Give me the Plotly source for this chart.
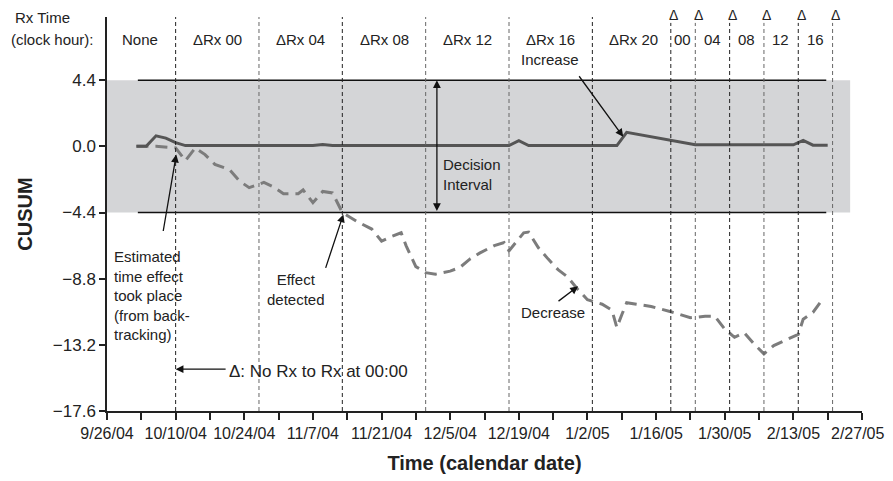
import pandas as pd
import plotly.graph_objects as go

# CUSUM traces
solid_dates = ['2004-10-02', '2004-10-04', '2004-10-06', '2004-10-08', '2004-10-10', '2004-10-12',
               '2004-11-07', '2004-11-09', '2004-11-11', '2004-12-17', '2004-12-19', '2004-12-21',
               '2005-01-08', '2005-01-10', '2005-01-24', '2005-02-13', '2005-02-15', '2005-02-17',
               '2005-02-20']
solid_vals = [0.0, 0.0, 0.7, 0.55, 0.25, 0.05,
              0.05, 0.12, 0.05, 0.05, 0.38, 0.05,
              0.05, 0.93, 0.1, 0.1, 0.4, 0.08,
              0.08]

dashed_dates = ['2004-10-02', '2004-10-06', '2004-10-10', '2004-10-12', '2004-10-14', '2004-10-16',
                '2004-10-18', '2004-10-21', '2004-10-23', '2004-10-25', '2004-10-28', '2004-10-30',
                '2004-11-01', '2004-11-04', '2004-11-05', '2004-11-07', '2004-11-09', '2004-11-11',
                '2004-11-13', '2004-11-16', '2004-11-19', '2004-11-21', '2004-11-23', '2004-11-25',
                '2004-11-26', '2004-11-28', '2004-11-30', '2004-12-02', '2004-12-05', '2004-12-07',
                '2004-12-09', '2004-12-11', '2004-12-14', '2004-12-16', '2004-12-17', '2004-12-19',
                '2004-12-20', '2004-12-21', '2004-12-23', '2004-12-25', '2004-12-27', '2004-12-29',
                '2004-12-31', '2005-01-02', '2005-01-05', '2005-01-07', '2005-01-08', '2005-01-09',
                '2005-01-10', '2005-01-12', '2005-01-15', '2005-01-19', '2005-01-23', '2005-01-26',
                '2005-01-28', '2005-01-30', '2005-02-01', '2005-02-03', '2005-02-05', '2005-02-07',
                '2005-02-09', '2005-02-12', '2005-02-14', '2005-02-15', '2005-02-17', '2005-02-19']
dashed_vals = [0.0, 0.0, -0.1, -0.95, -0.1, -0.55,
               -1.2, -1.55, -2.3, -2.75, -2.4, -2.7,
               -3.15, -3.15, -2.9, -3.75, -3.0, -3.1,
               -4.4, -5.0, -5.5, -6.3, -6.0, -5.75,
               -6.6, -8.0, -8.4, -8.5, -8.3, -8.05,
               -7.5, -7.1, -6.6, -6.4, -6.95, -6.1,
               -5.75, -5.7, -6.75, -7.5, -8.2, -8.7,
               -9.5, -10.2, -10.5, -10.9, -12.05, -11.2,
               -10.4, -10.5, -10.65, -11.0, -11.4, -11.3,
               -11.3, -12.15, -12.7, -12.4, -13.15, -13.8,
               -13.25, -12.8, -12.5, -11.5, -11.05, -10.15]

# decision interval
limit = 4.4

# Rx schedule changes
change_dates = ['2004-10-10', '2004-10-27', '2004-11-13', '2004-11-30', '2004-12-17', '2005-01-03',
                '2005-01-19', '2005-01-24', '2005-01-31', '2005-02-07', '2005-02-14', '2005-02-21']
change_colors = ['#222', '#666', '#222', '#666', '#666', '#222',
                 '#222', '#666', '#222', '#666', '#222', '#666']
delta_dates = change_dates[6:]

period_labels = ['None', 'ΔRx 00', 'ΔRx 04', 'ΔRx 08', 'ΔRx 12', 'ΔRx 16', 'ΔRx 20',
                 '00', '04', '08', '12', '16']
period_label_dates = ['2004-10-02 16:00', '2004-10-18 14:00', '2004-11-04 10:00', '2004-11-21 12:00',
                      '2004-12-08 12:00', '2004-12-25 10:00', '2005-01-11 08:00',
                      '2005-01-21 08:00', '2005-01-27 12:00', '2005-02-03 10:00',
                      '2005-02-10 08:00', '2005-02-17 12:00']

y_ticks = [4.4, 0.0, -4.4, -8.8, -13.2, -17.6]
y_tick_labels = ['4.4', '0.0', '−4.4', '−8.8', '−13.2', '−17.6']
x_tick_labels = ['9/26/04', '10/10/04', '10/24/04', '11/7/04', '11/21/04', '12/5/04',
                 '12/19/04', '1/2/05', '1/16/05', '1/30/05', '2/13/05', '2/27/05']

FONT = 'Liberation Sans, Arial, sans-serif'
x_tick_vals = pd.date_range('2004-09-26', '2005-02-27', freq='7D')
x_tick_text = []
for i in range(len(x_tick_vals)):
    x_tick_text.append(x_tick_labels[i // 2] if i % 2 == 0 else '')
# last label is drawn as an annotation, nudged left so it stays inside the page
x_tick_text[-1] = ''

fig = go.Figure()

# shaded decision interval band
fig.add_shape(type='rect', xref='x', yref='y', x0='2004-09-26', x1='2005-02-24 14:00',
              y0=-limit, y1=limit, fillcolor='#d4d5d7', line_width=0, layer='below')
for lv in (limit, -limit):
    fig.add_shape(type='line', xref='x', yref='y', x0='2004-10-02 07:00', x1='2005-02-19 17:00',
                  y0=lv, y1=lv, line=dict(color='#111', width=1.5))

for d, c in zip(change_dates, change_colors):
    top = 0.985 if d in delta_dates else 1.0
    fig.add_shape(type='line', xref='x', yref='paper', x0=d, x1=d, y0=0, y1=top,
                  line=dict(color=c, width=1, dash='4px,3px'))

fig.add_trace(go.Scatter(x=dashed_dates, y=dashed_vals, mode='lines',
                         line=dict(color='#7c7c7c', width=3, dash='12px,7px'),
                         showlegend=False))
fig.add_trace(go.Scatter(x=solid_dates, y=solid_vals, mode='lines',
                         line=dict(color='#555', width=3),
                         showlegend=False))

txt = dict(family=FONT, size=15, color='#222')
ann = []
for lbl, d in zip(period_labels, period_label_dates):
    ann.append(dict(x=d, y=7.08, xref='x', yref='y', text=lbl, showarrow=False, font=txt))
for d in delta_dates:
    ann.append(dict(x=d, y=1.005, xref='x', yref='paper', yanchor='middle', text='Δ',
                    showarrow=False, font=dict(family=FONT, size=14, color='#222'), xshift=3))
ann += [
    dict(x=-0.124, y=1.0, xref='paper', yref='paper', yanchor='middle', text='Rx Time',
         showarrow=False, xanchor='left', font=txt),
    dict(x=-0.13, y=0.942, xref='paper', yref='paper', yanchor='middle', text='(clock hour):',
         showarrow=False, xanchor='left', font=txt),
    dict(x=x_tick_vals[-1], y=0, xref='x', yref='paper', yanchor='top', text=x_tick_labels[-1],
         showarrow=False, yshift=-12, xshift=-5, font=dict(family=FONT, size=16, color='#222')),
    dict(x='2004-12-25 10:00', y=5.75, xref='x', yref='y', text='Increase', showarrow=False, font=txt),
    dict(x='2004-09-27', y=-6.6, xref='x', yref='y', yanchor='top', xanchor='left', align='left',
         text='Estimated<br>time effect<br>took place<br>(from back-<br>tracking)', showarrow=False,
         font=txt),
    dict(x='2004-11-03 14:00', y=-9.54, xref='x', yref='y', text='Effect<br>detected',
         showarrow=False, font=txt),
    dict(x='2004-12-19', y=-11.04, xref='x', yref='y', text='Decrease', xanchor='left',
         showarrow=False, font=txt),
    dict(x='2004-12-03 05:00', y=-1.85, xref='x', yref='y', text='Decision<br>Interval',
         xanchor='left', align='left', showarrow=False, font=txt),
    dict(x='2004-10-20 12:00', y=-14.95, xref='x', yref='y', text='Δ: No Rx to Rx at 00:00',
         xanchor='left', showarrow=False, font=dict(family=FONT, size=17, color='#222')),
]

# arrows: (head date, head y, tail date, tail y)
arrows = [
    ('2004-10-10 03:00', -0.55, '2004-10-07 10:00', -5.73),
    ('2004-11-13 05:00', -4.53, '2004-11-09 12:00', -8.18),
    ('2004-12-31 02:00', -9.31, '2004-12-26 19:00', -10.37),
    ('2005-01-09 07:00', 0.64, '2004-12-31 02:00', 4.76),
    ('2004-10-10', -14.82, '2004-10-20 12:00', -14.82),
]
for hx, hy, tx, ty in arrows:
    ann.append(dict(x=hx, y=hy, ax=tx, ay=ty, xref='x', yref='y', axref='x', ayref='y',
                    text='', showarrow=True, arrowhead=2, arrowsize=1.2, arrowwidth=1.3,
                    arrowcolor='#111'))
ann.append(dict(x='2004-12-02 07:00', y=limit, ax='2004-12-02 07:00', ay=-limit,
                xref='x', yref='y', axref='x', ayref='y', text='', showarrow=True,
                arrowhead=2, startarrowhead=2, arrowside='end+start', arrowsize=1.2,
                startarrowsize=1.2, arrowwidth=1.3, arrowcolor='#111'))

# page body has an 8px margin, so the figure is a bit smaller than the window
fig.update_layout(
    width=885, height=473,
    margin=dict(l=99, r=31, t=9, b=70),
    paper_bgcolor='white', plot_bgcolor='white',
    font=dict(family=FONT, color='#222'),
    annotations=ann,
    showlegend=False,
)
fig.update_xaxes(
    type='date', range=['2004-09-26', '2005-02-27'], automargin=False,
    tickvals=list(x_tick_vals), ticktext=x_tick_text,
    ticks='outside', ticklen=7, tickwidth=1.5, tickcolor='#222',
    showline=True, linecolor='#222', linewidth=1.5, showgrid=False, zeroline=False,
    tickfont=dict(family=FONT, size=16, color='#222'),
    title=dict(text='<b>Time (calendar date)</b>', font=dict(family=FONT, size=20, color='#222')),
)
fig.update_yaxes(
    range=[-17.6, 8.6], tickvals=y_ticks, ticktext=y_tick_labels, automargin=False,
    ticks='outside', ticklen=6, tickwidth=1.5, tickcolor='#222',
    showline=True, linecolor='#222', linewidth=1.5, showgrid=False, zeroline=False,
    tickfont=dict(family=FONT, size=17, color='#222'),
    title=dict(text='<b>CUSUM</b>', font=dict(family=FONT, size=20, color='#222')),
)

fig.write_html('out.html')
